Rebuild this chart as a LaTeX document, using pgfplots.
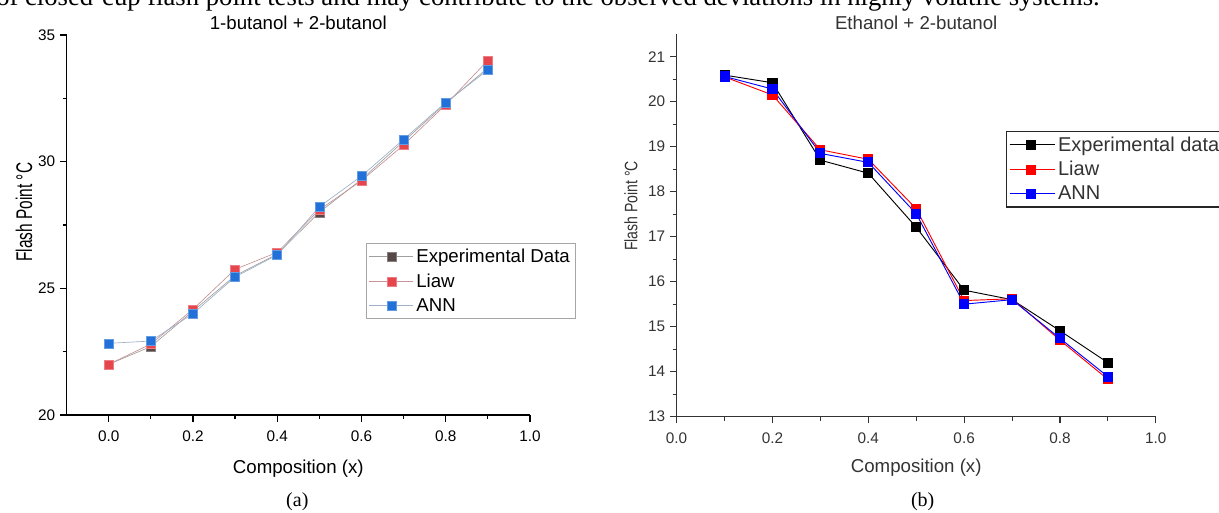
\documentclass[border=0pt]{standalone}
\usepackage{fontspec}
\setmainfont{Liberation Sans}
\newfontfamily\serif{Liberation Serif}
\usepackage{pgfplots}
\pgfplotsset{compat=1.18}

\definecolor{expA}{HTML}{574848}
\definecolor{liawA}{HTML}{E5454D}
\definecolor{annA}{HTML}{2271D8}
\definecolor{axgray}{HTML}{333333}

\pgfplotsset{
  common/.style={
    scale only axis,
    axis lines=left,
    axis line style={-},
    tick align=outside,
    major tick length=5pt,
    minor tick length=3pt,
    /pgf/number format/assume math mode=true,
    /pgf/number format/fixed,
    /pgf/number format/fixed zerofill,
    every tick label/.append style={font=\fontsize{11.5}{13}\selectfont},
    xticklabel style={yshift=-3.5pt},
    label style={font=\fontsize{14}{16}\selectfont},
    title style={font=\fontsize{14}{16}\selectfont, at={(axis description cs:0.5,1)}, anchor=base},
    legend cell align=left,
    clip=false,
  },
}

\begin{document}
\begin{tikzpicture}

% paragraph line cut off at the top of the figure
\node[anchor=base west, inner sep=0pt, font=\serif\fontsize{20}{22}\selectfont] at (-3pt,-4.1pt)
  {of closed-cup flash point tests and may contribute to the observed deviations in highly volatile systems.};

% (a) 1-butanol + 2-butanol
\begin{axis}[common,
  at={(49.9pt,-311.25pt)}, anchor=south west,
  width=347.6pt, height=285pt,
  xmin=-0.1, xmax=1.0, ymin=20, ymax=35,
  xtick={0,0.2,...,1.0}, minor x tick num=1,
  ytick={20,25,30,35}, minor y tick num=1,
  yticklabel style={/pgf/number format/precision=0},
  xticklabel style={/pgf/number format/precision=1},
  axis line style={line width=1.1pt, black},
  every tick/.style={black, line width=0.9pt},
  title={1-butanol + 2-butanol},
  title style={yshift=-2pt},
  xlabel={Composition (x)}, ylabel={\scalebox{0.68}[1]{Flash Point °C}},
  xlabel style={at={(axis description cs:0.5,0)}, anchor=base, yshift=-43.5pt},
  ylabel style={at={(axis description cs:-0.0917,0.534)}, anchor=center, font=\fontsize{17}{19}\selectfont},
  legend style={at={(0.646,0.452)}, anchor=north west, draw=gray!70, line width=0.6pt,
    font=\fontsize{14}{16}\selectfont, row sep=2.8pt, inner sep=2pt},
  legend image code/.code={\draw[mark repeat=2,mark phase=2,#1] plot coordinates {(0pt,0pt) (16.5pt,0pt) (33pt,0pt)};},
  mark size=3.4pt,
]
\addplot[color=gray!75, line width=0.5pt, mark=square*, mark options={fill=expA, draw=expA!70!white, line width=0.4pt}]
  coordinates {(0,22.0)(0.1,22.7)(0.2,24.1)(0.3,25.5)(0.4,26.35)(0.5,28.0)(0.6,29.3)(0.7,30.8)(0.8,32.3)(0.9,33.7)};
\addlegendentry{Experimental Data}
\addplot[color=liawA!45!gray!70, line width=0.5pt, mark=square*, mark options={fill=liawA, draw=liawA!70!white, line width=0.4pt}]
  coordinates {(0,22.0)(0.1,22.8)(0.2,24.17)(0.3,25.75)(0.4,26.42)(0.5,28.1)(0.6,29.25)(0.7,30.66)(0.8,32.25)(0.9,34.0)};
\addlegendentry{Liaw}
\addplot[color=annA!35!gray!60, line width=0.5pt, mark=square*, mark options={fill=annA, draw=annA!70!white, line width=0.4pt}]
  coordinates {(0,22.83)(0.1,22.92)(0.2,24.0)(0.3,25.45)(0.4,26.32)(0.5,28.22)(0.6,29.43)(0.7,30.88)(0.8,32.34)(0.9,33.62)};
\addlegendentry{ANN}
\end{axis}

% (b) Ethanol + 2-butanol
\begin{axis}[common,
  at={(507.45pt,-312.5pt)}, anchor=south west,
  width=359.4pt, height=286.9pt,
  xmin=0, xmax=1.0, ymin=13, ymax=21.5,
  xtick={0,0.2,...,1.0}, minor x tick num=1,
  ytick={13,...,21}, minor y tick num=1,
  yticklabel style={/pgf/number format/precision=0, text=axgray},
  xticklabel style={/pgf/number format/precision=1, text=axgray},
  axis line style={line width=1pt, axgray},
  every tick/.style={axgray, line width=0.8pt},
  title={Ethanol + 2-butanol},
  xlabel={Composition (x)}, ylabel={\scalebox{0.78}[1]{Flash Point °C}},
  label style={text=axgray},
  title style={text=axgray, yshift=-2.5pt},
  xlabel style={at={(axis description cs:0.5,0)}, anchor=base, yshift=-42.2pt},
  ylabel style={at={(axis description cs:-0.0954,0.551)}, anchor=center, font=\fontsize{13.5}{15}\selectfont},
  legend style={at={(0.687,0.748)}, anchor=north west, draw=black!85, line width=1pt,
    font=\fontsize{15}{17}\selectfont, row sep=2.2pt, inner sep=2pt, text=axgray},
  legend image code/.code={\path (0pt,0pt) -- (34pt,0pt); \draw[mark repeat=2,mark phase=2,#1] plot coordinates {(0pt,0pt) (16pt,0pt) (32pt,0pt)};},
  mark size=3.4pt,
]
\addplot[color=black, line width=0.7pt, mark=square*, mark options={fill=black}]
  coordinates {(0.1,20.59)(0.2,20.42)(0.3,18.7)(0.4,18.41)(0.5,17.21)(0.6,15.81)(0.7,15.6)(0.8,14.91)(0.9,14.2)};
\addlegendentry{Experimental data}
\addplot[color=red, line width=0.7pt, mark=square*, mark options={fill=red}]
  coordinates {(0.1,20.55)(0.2,20.15)(0.3,18.93)(0.4,18.72)(0.5,17.62)(0.6,15.58)(0.7,15.62)(0.8,14.7)(0.9,13.83)};
\addlegendentry{Liaw}
\addplot[color=blue, line width=0.7pt, mark=square*, mark options={fill=blue}]
  coordinates {(0.1,20.56)(0.2,20.28)(0.3,18.85)(0.4,18.65)(0.5,17.51)(0.6,15.5)(0.7,15.6)(0.8,14.74)(0.9,13.89)};
\addlegendentry{ANN}
\end{axis}

% panel letters
\node[anchor=base, font=\serif\fontsize{15}{17}\selectfont] at (223pt,-380pt) {(a)};
\node[anchor=base, font=\serif\fontsize{15}{17}\selectfont] at (692pt,-380pt) {(b)};

\pgfresetboundingbox
\path[use as bounding box] (0pt,0pt) rectangle (914.25pt,-384pt);
\end{tikzpicture}
\end{document}
